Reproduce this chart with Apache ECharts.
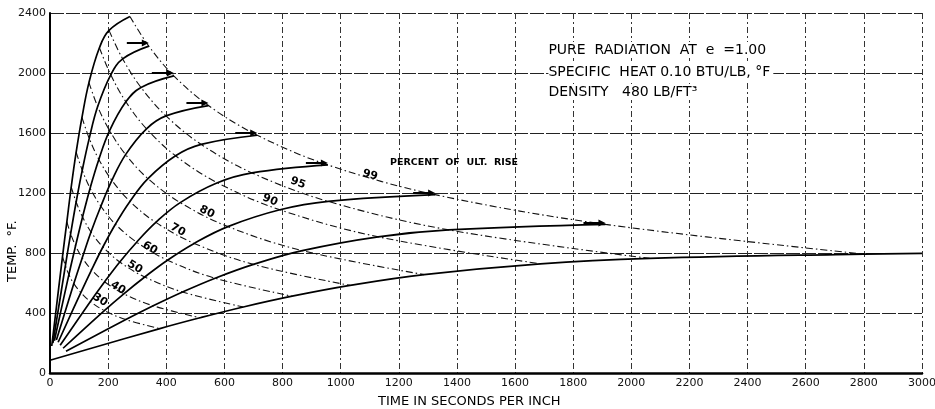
<!DOCTYPE html>
<html><head><meta charset="utf-8">
<script src="https://cdn.jsdelivr.net/npm/echarts@6/dist/echarts.min.js"></script>
<style>html,body{margin:0;padding:0;background:#fff}#c{width:935px;height:409px}</style>
</head><body><div id="c"></div>
<script>
// Ultimate (furnace) temperatures, deg F, one solid heating curve each
const ultimateTemps = [2400, 2200, 2000, 1800, 1600, 1400, 1200, 1000, 800];
// Percent-of-ultimate-rise levels (dash-dot lines)
const percentLevels = ['30', '40', '50', '60', '70', '80', '90', '95', '99'];
// Each curve: start point, then the 30,40,50,60,70,80,90,95,99 % points
const time2400 = [6, 43, 58, 73, 90, 110, 134, 170, 203, 275];
const temp2400 = [180, 776, 1008, 1240, 1472, 1704, 1936, 2168, 2284, 2377];
const time2200 = [10, 53, 71, 90, 111, 135, 164, 209, 250, 340];
const temp2200 = [200, 716, 928, 1140, 1352, 1564, 1776, 1988, 2094, 2179];
const time2000 = [15, 65, 88, 112, 138, 168, 205, 261, 313, 426];
const temp2000 = [215, 656, 848, 1040, 1232, 1424, 1616, 1808, 1904, 1981];
const time1800 = [22, 82, 111, 141, 175, 213, 260, 332, 399, 545];
const temp1800 = [220, 596, 768, 940, 1112, 1284, 1456, 1628, 1714, 1783];
const time1600 = [28, 106, 143, 182, 225, 275, 337, 432, 520, 713];
const temp1600 = [205, 536, 688, 840, 992, 1144, 1296, 1448, 1524, 1585];
const time1400 = [35, 139, 188, 240, 298, 364, 448, 576, 695, 956];
const temp1400 = [185, 476, 608, 740, 872, 1004, 1136, 1268, 1334, 1387];
const time1200 = [45, 187, 254, 326, 404, 496, 612, 791, 957, 1325];
const temp1200 = [165, 416, 528, 640, 752, 864, 976, 1088, 1144, 1189];
const time1000 = [55, 261, 355, 456, 568, 700, 868, 1129, 1372, 1911];
const temp1000 = [145, 356, 448, 540, 632, 724, 816, 908, 954, 991];
const time800 = [0, 378, 516, 665, 833, 1032, 1287, 1687, 2063, 2800, 3000];
const temp800 = [85, 296, 368, 440, 512, 584, 656, 728, 764, 793, 797];
// Curves whose end carries an arrow at the ultimate level
const arrowCurves = [2200, 2000, 1800, 1600, 1400, 1200, 1000];

const curveTimes = {2400: time2400, 2200: time2200, 2000: time2000, 1800: time1800, 1600: time1600, 1400: time1400, 1200: time1200, 1000: time1000, 800: time800};
const curveTemps = {2400: temp2400, 2200: temp2200, 2000: temp2000, 1800: temp1800, 1600: temp1600, 1400: temp1400, 1200: temp1200, 1000: temp1000, 800: temp800};

// label anchors (data coordinates) and rotation for the percent labels
const pctLabelAnchor = [[172, 487], [234, 567], [292, 707], [344, 833], [440, 953], [540, 1073], [757, 1153], [853, 1267], [1101, 1320]];
const pctLabelRotate = [-33, -32, -31, -30, -29, -27, -23, -20, -16];

const notes = ['PURE  RADIATION  AT  e  =1.00', 'SPECIFIC  HEAT 0.10 BTU/LB, °F', 'DENSITY   480 LB/FT³'];
const noteAnchor = [[1713, 2153], [1713, 2007], [1713, 1873]];
const percentTitle = 'PERCENT  OF  ULT.  RISE';
const percentTitleAnchor = [1390, 1400];

const FONT = 'DejaVu Sans';
const series = [];

// percent lines
percentLevels.forEach((p, i) => {
  series.push({
    type: 'line', name: p + '%', z: 2,
    data: ultimateTemps.map(u => [curveTimes[u][i + 1], curveTemps[u][i + 1]]),
    smooth: 0.35, showSymbol: false, silent: true,
    lineStyle: {color: '#111', width: 1.1, type: [7, 3, 1.5, 3]}
  });
});
// solid heating curves
ultimateTemps.forEach(u => {
  series.push({
    type: 'line', name: String(u), z: 3,
    data: curveTimes[u].map((t, k) => [t, curveTemps[u][k]]),
    smooth: 0.4, showSymbol: false, silent: true,
    lineStyle: {color: '#000', width: 1.7}
  });
});
// arrows
series.push({
  type: 'custom', z: 4, silent: true,
  data: arrowCurves.map(u => [curveTimes[u][9], u]),
  renderItem: function (params, api) {
    const p = api.coord([api.value(0), api.value(1)]);
    return {type: 'group', children: [
      {type: 'line', shape: {x1: p[0] - 22, y1: p[1], x2: p[0] - 4, y2: p[1]}, style: {stroke: '#000', lineWidth: 2}},
      {type: 'polygon', shape: {points: [[p[0], p[1]], [p[0] - 7, p[1] - 3.5], [p[0] - 7, p[1] + 3.5]]}, style: {fill: '#000'}}
    ]};
  }
});
// percent labels
series.push({
  type: 'scatter', z: 5, silent: true, symbolSize: 1, itemStyle: {color: 'rgba(0,0,0,0)', opacity: 1},
  data: percentLevels.map((p, i) => ({
    value: pctLabelAnchor[i],
    label: {show: true, formatter: p, rotate: pctLabelRotate[i], position: 'inside',
      fontFamily: FONT, fontSize: 11, fontWeight: 'bold', color: '#000'}
  }))
});
// notes
series.push({
  type: 'scatter', z: 5, silent: true, symbolSize: 1, itemStyle: {color: 'rgba(0,0,0,0)', opacity: 1},
  data: notes.map((n, i) => ({
    value: noteAnchor[i],
    label: {show: true, formatter: n, position: 'right', distance: 0, align: 'left', verticalAlign: 'middle',
      fontFamily: FONT, fontSize: 14, color: '#000', backgroundColor: '#fff', padding: [1, 3, 1, 0]}
  })).concat([{
    value: percentTitleAnchor,
    label: {show: true, formatter: percentTitle, position: 'inside', fontFamily: FONT, fontSize: 9.5,
      fontWeight: 'bold', color: '#000'}
  }])
});

const chart = echarts.init(document.getElementById('c'), null, {renderer: 'canvas'});
chart.setOption({
  animation: false,
  backgroundColor: '#fff',
  grid: {left: 50, right: 13, top: 13, bottom: 36, outerBoundsMode: 'none'},
  xAxis: {
    type: 'value', min: 0, max: 3000, interval: 200,
    axisLine: {show: true, lineStyle: {color: '#000', width: 2.5}},
    axisTick: {show: false},
    axisLabel: {fontFamily: FONT, fontSize: 11, color: '#111', margin: 5, formatter: v => String(v)},
    splitLine: {show: true, lineStyle: {color: '#333', width: 1, type: [6, 3, 2, 3]}}
  },
  yAxis: {
    type: 'value', min: 0, max: 2400, interval: 400,
    axisLine: {show: true, lineStyle: {color: '#000', width: 2}},
    axisTick: {show: false},
    axisLabel: {fontFamily: FONT, fontSize: 11, color: '#111', margin: 4, formatter: v => String(v)},
    splitLine: {show: true, lineStyle: {color: '#222', width: 1, type: [14, 2]}}
  },
  graphic: [
    {type: 'text', left: 378, top: 395, style: {text: 'TIME IN SECONDS PER INCH', font: '13px "DejaVu Sans"', fill: '#000'}},
    {type: 'text', x: 6, y: 282, rotation: Math.PI / 2, style: {text: 'TEMP.  °F.', font: '13px "DejaVu Sans"', fill: '#000'}}
  ],
  series: series
});
</script></body></html>
